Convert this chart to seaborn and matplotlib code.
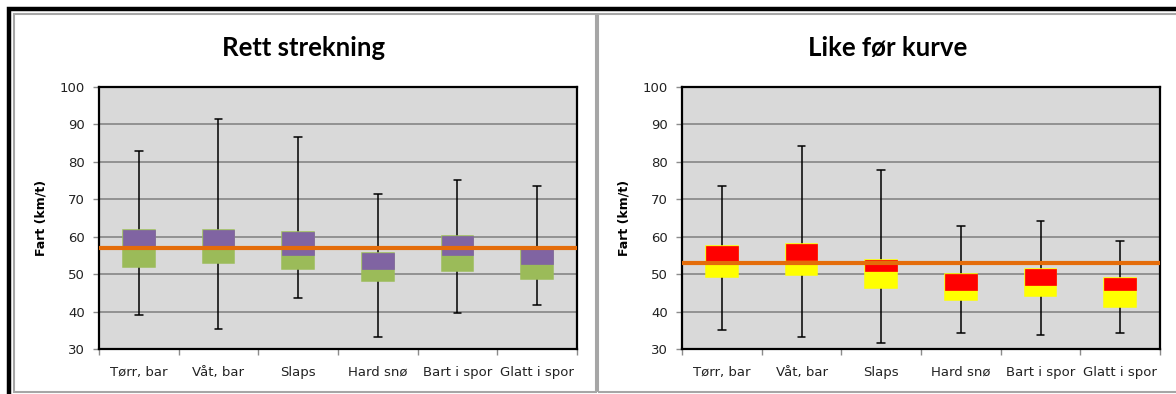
import matplotlib
matplotlib.use("Agg")
import matplotlib.pyplot as plt
import seaborn as sns
import pandas as pd
import numpy as np

# categories (same for both panels)
categories = ["Tørr, bar", "Våt, bar", "Slaps", "Hard snø", "Bart i spor", "Glatt i spor"]

# Rett strekning: min, q1, median, q3, max
rett_min = [39.1, 35.4, 43.6, 33.3, 39.7, 41.8]
rett_q1 = [51.9, 52.9, 51.5, 48.3, 50.8, 48.7]
rett_med = [56.9, 57.0, 55.0, 51.5, 55.0, 52.8]
rett_q3 = [61.9, 61.7, 61.3, 55.6, 60.1, 56.8]
rett_max = [83.0, 91.5, 86.6, 71.5, 75.2, 73.5]
rett_mean = 56.9

# Like før kurve
kurve_min = [35.0, 33.3, 31.5, 34.4, 33.7, 34.4]
kurve_q1 = [49.2, 49.7, 46.4, 43.1, 44.1, 41.3]
kurve_med = [53.1, 53.9, 50.8, 45.8, 47.2, 45.8]
kurve_q3 = [57.4, 58.1, 53.9, 50.0, 51.5, 49.0]
kurve_max = [73.5, 84.2, 77.9, 62.9, 64.3, 58.8]
kurve_mean = 53.1

sns.set_style("white")
plt.rcParams["font.family"] = ["DejaVu Sans"]

W, H = 1176, 394
fig = plt.figure(figsize=(W / 100, H / 100), dpi=100)


def panel(left_px, title, title_x, lo, q1, med, q3, hi, mean, low_col, up_col):
    ax = fig.add_axes([left_px / W, (H - 349) / H, 478 / W, 262 / H])
    ax.set_facecolor("#D9D9D9")

    # five stats per category -> boxplot with whiskers at min/max
    rows = []
    for i, c in enumerate(categories):
        for v in (lo[i], q1[i], med[i], q3[i], hi[i]):
            rows.append({"kat": c, "fart": v})
    df = pd.DataFrame(rows)
    sns.boxplot(data=df, x="kat", y="fart", order=categories, whis=(0, 100),
                width=0.4, color=low_col, saturation=1, linecolor="black",
                linewidth=1.1, capwidths=0.1, ax=ax,
                boxprops={"edgecolor": low_col, "zorder": 2},
                medianprops={"linewidth": 0},
                whiskerprops={"zorder": 1.5}, capprops={"zorder": 1.5})

    # upper half of the box (median -> q3)
    upper = np.array(q3) - np.array(med)
    sns.barplot(x=categories, y=upper, bottom=med, order=categories, width=0.4,
                color=up_col, saturation=1, edgecolor=up_col, linewidth=0.5,
                errorbar=None, zorder=3, ax=ax)

    ax.axhline(mean, color="#E46C0A", linewidth=3, zorder=4)

    ax.set_ylim(30, 100)
    ax.set_xlim(-0.5, len(categories) - 0.5)
    ax.set_yticks(range(30, 101, 10))
    ax.yaxis.grid(True, color="#8C8C8C", linewidth=1.3)
    ax.set_axisbelow(True)
    for s in ax.spines.values():
        s.set_color("black")
        s.set_linewidth(1.6)

    ax.tick_params(axis="y", left=True, length=4.5, width=1, color="#8C8C8C",
                   pad=5.5, labelsize=9.5, labelcolor="#222222")
    ax.tick_params(axis="x", which="major", length=0, pad=12, labelsize=9.5,
                   labelcolor="#222222")
    ax.set_xticks(np.arange(-0.5, len(categories), 1), minor=True)
    ax.tick_params(axis="x", which="minor", bottom=True, length=4, width=1,
                   color="#8C8C8C")

    ax.set_xlabel("")
    ax.set_ylabel("Fart (km/t)", fontsize=9, fontweight="bold", color="black")
    ax.yaxis.set_label_coords(-0.108, 0.5)

    fig.text(title_x / W, 1 - 48 / H, title, ha="center", va="center",
             fontsize=18.5, fontweight="bold", color="black",
             family=["Lato", "DejaVu Sans"])
    return ax


panel(99, "Rett strekning", 304, rett_min, rett_q1, rett_med, rett_q3, rett_max,
      rett_mean, "#9BBB59", "#8064A2")
panel(682, "Like før kurve", 888, kurve_min, kurve_q1, kurve_med, kurve_q3, kurve_max,
      kurve_mean, "#FFFF00", "#FF0000")

# chart-area frames
for x0, x1 in ((13.5, 595.5), (597.5, 1190)):
    fig.add_artist(plt.Rectangle((x0 / W, 1 - 391.5 / H), (x1 - x0) / W, 378 / H,
                                 transform=fig.transFigure, fill=False,
                                 edgecolor="#A6A6A6", linewidth=1.5))
# outer black frame (cut at right and bottom)
fig.add_artist(plt.Rectangle((9 / W, -10 / H), 1200 / W, (H + 10 - 9) / H,
                             transform=fig.transFigure, fill=False,
                             edgecolor="black", linewidth=3.2))

fig.savefig("out.png", dpi=100)
